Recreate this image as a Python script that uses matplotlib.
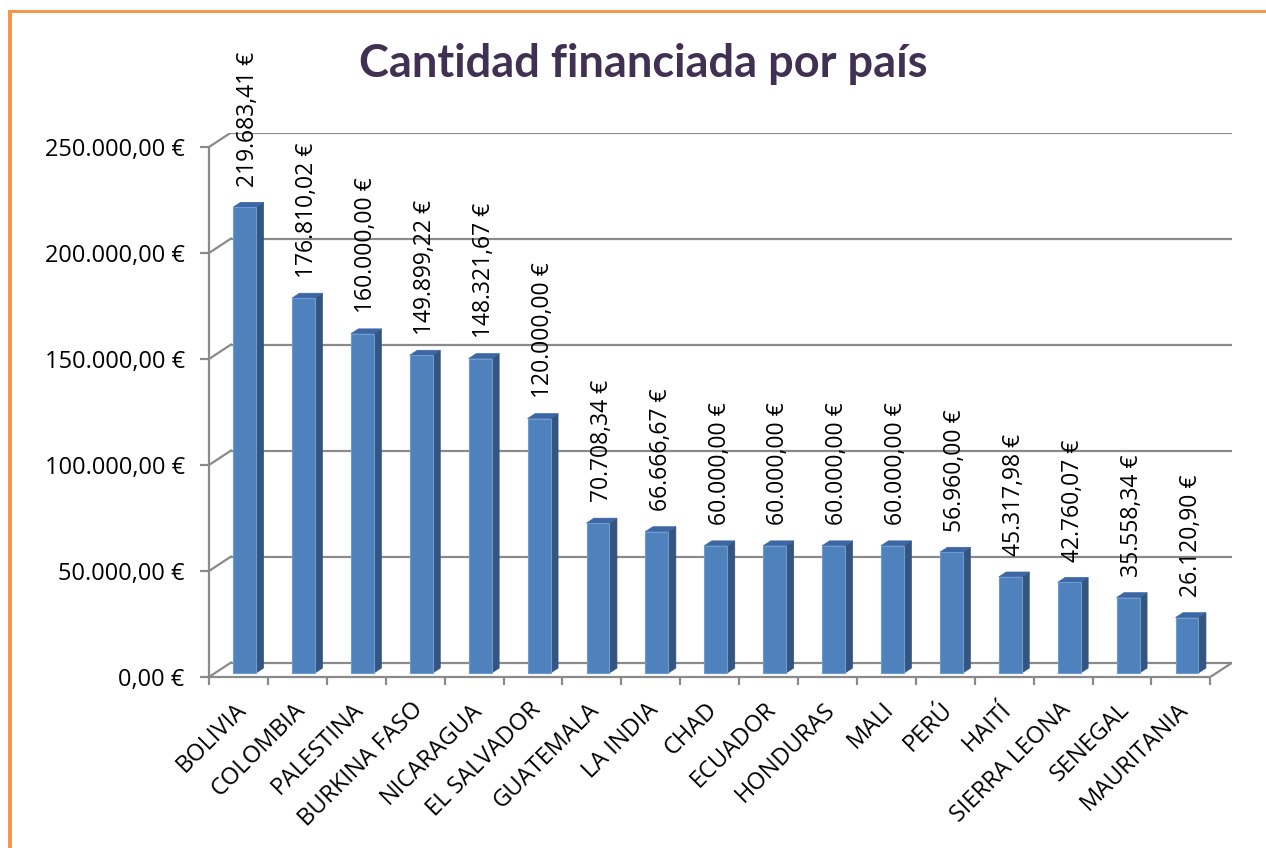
import matplotlib
matplotlib.use("Agg")
import matplotlib.pyplot as plt
from matplotlib.patches import Polygon, Rectangle
from matplotlib.ticker import FixedLocator, NullFormatter

# datos del grafico
paises = ["BOLIVIA", "COLOMBIA", "PALESTINA", "BURKINA FASO", "NICARAGUA",
          "EL SALVADOR", "GUATEMALA", "LA INDIA", "CHAD", "ECUADOR",
          "HONDURAS", "MALI", "PERÚ", "HAITÍ", "SIERRA LEONA", "SENEGAL",
          "MAURITANIA"]
cantidades = [219683.41, 176810.02, 160000.00, 149899.22, 148321.67,
              120000.00, 70708.34, 66666.67, 60000.00, 60000.00,
              60000.00, 60000.00, 56960.00, 45317.98, 42760.07, 35558.34,
              26120.90]
ticks_y = [0, 50000, 100000, 150000, 200000, 250000]
titulo = "Cantidad financiada por país"


def euros(v):
    s = "{:,.2f}".format(v).replace(",", "X").replace(".", ",").replace("X", ".")
    return s + " €"


W, H = 1266, 848
fig = plt.figure(figsize=(W / 100, H / 100), dpi=100)
fig.patch.set_facecolor("white")

# perspectiva (profundidad del "3D")
D = 0.373        # en categorias
DY = 6800        # en euros
ymax = ticks_y[-1]
n = len(paises)

px_cat = 58.9
px_val = 106 / 50000
x0_px, y0_px = 209, 677
ax_w = (n + D) * px_cat
ax_h = (ymax + DY) * px_val
ax = fig.add_axes([x0_px / W, (H - y0_px) / H, ax_w / W, ax_h / H])
ax.set_xlim(-0.5, n - 0.5 + D)
ax.set_ylim(0, ymax + DY)
ax.patch.set_alpha(0)

gris = "#8a8a8a"
lw = 1.6

# pared del fondo y suelo
for v in ticks_y:
    ax.plot([-0.5 + D, n - 0.5 + D], [v + DY, v + DY], color=gris, lw=lw, zorder=1,
            solid_capstyle="butt")
    ax.plot([-0.5, -0.5 + D], [v, v + DY], color=gris, lw=lw, zorder=1)
ax.plot([n - 0.5, n - 0.5 + D], [0, DY], color=gris, lw=lw, zorder=1)

# barras
f = 0.28
w = 0.39
bd = 0.34 * D
bdy = 0.34 * DY
frente = "#4f81bd"
lado = "#33557f"
arriba = "#3c67a4"
for i, v in enumerate(cantidades):
    xl = i - w / 2 + f * D
    xr = xl + w
    yb = f * DY
    yt = v + yb
    ax.add_patch(Polygon([(xr, yb), (xr + bd, yb + bdy), (xr + bd, yt + bdy), (xr, yt)],
                         closed=True, facecolor=lado, edgecolor=lado, lw=0.5, zorder=3))
    ax.add_patch(Polygon([(xl, yt), (xr, yt), (xr + bd, yt + bdy), (xl + bd, yt + bdy)],
                         closed=True, facecolor=arriba, edgecolor=arriba, lw=0.5, zorder=3))
    ax.add_patch(Rectangle((xl, yb), w, v, facecolor=frente, edgecolor="#6c9bd2",
                           lw=0.8, zorder=4))
    ax.text(xl + w / 2 + bd / 2, yt + bdy + 7400, euros(v), rotation=90,
            ha="center", va="bottom", fontsize=16.5, family="Open Sans",
            color="black", zorder=6, clip_on=False)

# ejes delanteros
for s in ["top", "right"]:
    ax.spines[s].set_visible(False)
ax.spines["left"].set_bounds(0, ymax)
ax.spines["bottom"].set_bounds(-0.5, n - 0.5)
for s in ["left", "bottom"]:
    ax.spines[s].set_color(gris)
    ax.spines[s].set_linewidth(lw)
    ax.spines[s].set_zorder(2)

ax.set_yticks(ticks_y)
ax.set_yticklabels([euros(v) for v in ticks_y], fontsize=17, family="Open Sans")
ax.tick_params(axis="y", length=6.5, width=lw, color=gris, pad=11)

ax.xaxis.set_major_locator(FixedLocator([i - 0.5 for i in range(n + 1)]))
ax.xaxis.set_major_formatter(NullFormatter())
ax.xaxis.set_minor_locator(FixedLocator([i + 0.07 for i in range(n)]))
ax.set_xticklabels(paises, minor=True, rotation=45, ha="right", va="center",
                   rotation_mode="anchor", fontsize=17, family="Open Sans")
ax.tick_params(axis="x", which="major", length=6, width=lw, color=gris)
ax.tick_params(axis="x", which="minor", length=0, pad=21)

fig.text(643 / W, (H - 77) / H, titulo, ha="center", va="baseline",
         fontsize=32.5, fontweight="bold", family="Lato", color="#403152")

# marco naranja
naranja = "#f79646"
fig.add_artist(Rectangle((8 / W, 0), 4 / W, (H - 10) / H, transform=fig.transFigure,
                         facecolor=naranja, edgecolor="none"))
fig.add_artist(Rectangle((8 / W, (H - 13) / H), (W - 8) / W, 3 / H,
                         transform=fig.transFigure, facecolor=naranja, edgecolor="none"))

fig.savefig("out.png", dpi=100)
